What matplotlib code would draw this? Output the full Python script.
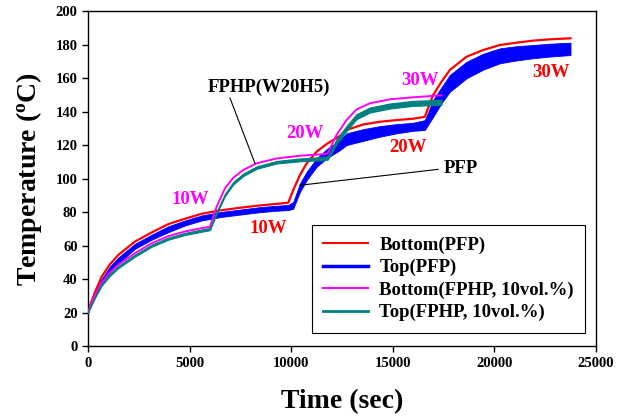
import matplotlib
matplotlib.use("Agg")
import matplotlib.pyplot as plt
from matplotlib.lines import Line2D

plt.rcParams['font.family'] = ['Liberation Serif', 'DejaVu Serif']
plt.rcParams['font.weight'] = 'bold'
plt.rcParams['mathtext.fontset'] = 'custom'
plt.rcParams['mathtext.rm'] = 'Liberation Serif:bold'
plt.rcParams['mathtext.bf'] = 'Liberation Serif:bold'

##################################################################################################

# Data (time in sec, temperature in C)

t_pfp = [0, 150, 350, 670, 1080, 1500, 2300, 3130, 3950, 4770, 5600, 6500, 7500, 8500, 9300,
         9860, 10100, 10430, 10760, 11250, 11740, 12400, 12730, 13550, 14370, 15190, 16000,
         16580, 16990, 17400, 17810, 18630, 19450, 20270, 21090, 21900, 22730, 23750]
bottom_pfp = [20, 26, 32.4, 41.4, 48.8, 54.5, 62.3, 67.8, 72.8, 76, 79, 81, 82.6, 84, 84.9,
              85.6, 93.1, 102, 109, 116, 120.6, 125.5, 129, 132.3, 133.9, 134.9, 135.7,
              136.9, 149.9, 157.8, 164.8, 172.7, 176.7, 179.7, 181.1, 182.3, 183.1, 183.7]
top_pfp_hi = [20, 25.5, 31.5, 40, 47.5, 53, 61, 66.5, 71.5, 75, 78, 80, 81.5, 83, 83.8,
              84.3, 86, 97, 104, 112, 117.5, 123, 127, 129.5, 131.3, 132.5, 133.3,
              134.9, 146.9, 154.5, 161.8, 169.7, 174.5, 177.7, 179, 179.7, 180.5, 181.1]
top_pfp_lo = [20, 24.5, 29.5, 37, 44, 49.5, 58, 63.5, 68, 72, 75, 77, 78.5, 80, 80.8,
              81.2, 82, 92, 99, 107, 112, 117, 120, 122.5, 125, 127, 128.5,
              129, 136.9, 145, 151.8, 159.8, 165, 168.8, 170.5, 171.8, 172.8, 173.7]

t_fphp = [0, 150, 350, 670, 1080, 1500, 2300, 3130, 3950, 4770, 5600, 6000, 6330, 6740,
          7150, 7640, 8300, 9280, 10430, 11660, 11800, 12230, 12730, 13220, 13870, 14860,
          16000, 17400]
bottom_fphp = [20, 25, 30.5, 37.6, 44, 48.6, 55.4, 61.4, 65.6, 68.4, 70.4, 71.2, 83.2, 94.1,
               100.5, 105.1, 109.1, 112, 113.6, 114.6, 115, 126, 135, 141.3, 144.9, 147.3,
               148.5, 149.7]
top_fphp_hi = [20, 24.7, 30, 37, 43.3, 47.9, 54.6, 60.6, 64.8, 67.6, 69.6, 70.5, 80.5, 91,
               98, 103, 107.3, 110.5, 112, 113, 113.3, 123.5, 131.5, 138.5, 142.4, 144.8,
               146.4, 147]
top_fphp_lo = [20, 24, 29, 36, 42, 46.6, 53.3, 59.3, 63.5, 66.3, 68.3, 69.2, 79, 89.5,
               96.5, 101.5, 105.8, 109, 110.3, 111, 111.3, 120.5, 128.5, 135.5, 139.4, 141.8,
               143.4, 144]

legend_labels = ['Bottom(PFP)', 'Top(PFP)', 'Bottom(FPHP, 10vol.%)', 'Top(FPHP, 10vol.%)']

##################################################################################################

red, blue, magenta, teal = '#ff0000', '#0000ff', '#ff00ff', '#008080'

fig = plt.figure(figsize=(6.22, 4.17), dpi=100)
ax = fig.add_axes([0.1415, 0.170, 0.8165, 0.8036])

ax.plot(t_pfp, bottom_pfp, color=red, lw=1.6, zorder=2)
ax.fill_between(t_pfp, top_pfp_lo, top_pfp_hi, color=blue, lw=0.6, edgecolor=blue, zorder=3)
ax.plot(t_fphp, bottom_fphp, color=magenta, lw=1.4, zorder=4)
ax.fill_between(t_fphp, top_fphp_lo, top_fphp_hi, color=teal, lw=0.8, edgecolor=teal, zorder=5)

ax.set_xlim(0, 25000)
ax.set_ylim(0, 200)
ax.set_xticks(range(0, 25001, 5000))
ax.set_yticks(range(0, 201, 20))
ax.tick_params(labelsize=10.5, length=4, width=1, direction='out', top=False, right=False)
for s in ax.spines.values():
    s.set_linewidth(1)

ax.set_xlabel('Time (sec)', fontsize=20, fontweight='bold', labelpad=14)
ax.set_ylabel(r'Temperature ($\mathrm{^{o}}$C)', fontsize=20, fontweight='bold', labelpad=8)

# annotations
ax.text(8900, 154.6, 'FPHP(W20H5)', fontsize=13.5, ha='center', va='center', zorder=6)
ax.plot([6990, 8220], [148, 109], color='black', lw=0.8, zorder=6)
ax.text(18350, 106, 'PFP', fontsize=13.5, ha='center', va='center', zorder=6)
ax.plot([17235, 10430], [105.5, 96], color='black', lw=0.8, zorder=6)

ax.text(5020, 87.8, '10W', color=magenta, fontsize=13.5, ha='center', va='center')
ax.text(10680, 126.6, '20W', color=magenta, fontsize=13.5, ha='center', va='center')
ax.text(16330, 158.8, '30W', color=magenta, fontsize=13.5, ha='center', va='center')
ax.text(8890, 70.3, '10W', color=red, fontsize=13.5, ha='center', va='center')
ax.text(15750, 118.4, '20W', color=red, fontsize=13.5, ha='center', va='center')
ax.text(22780, 163.2, '30W', color=red, fontsize=13.5, ha='center', va='center')

handles = [Line2D([], [], color=red, lw=1.5),
           Line2D([], [], color=blue, lw=2.5),
           Line2D([], [], color=magenta, lw=1.5),
           Line2D([], [], color=teal, lw=2.0)]
leg = ax.legend(handles, legend_labels, loc='lower right', bbox_to_anchor=(0.979, 0.040),
                fontsize=13.5, frameon=True, fancybox=False, edgecolor='black',
                framealpha=1, handlelength=2.4, labelspacing=0.28, borderpad=0.6,
                handletextpad=0.6, borderaxespad=0)
leg.get_frame().set_linewidth(0.8)

fig.savefig('out.png', dpi=100)
